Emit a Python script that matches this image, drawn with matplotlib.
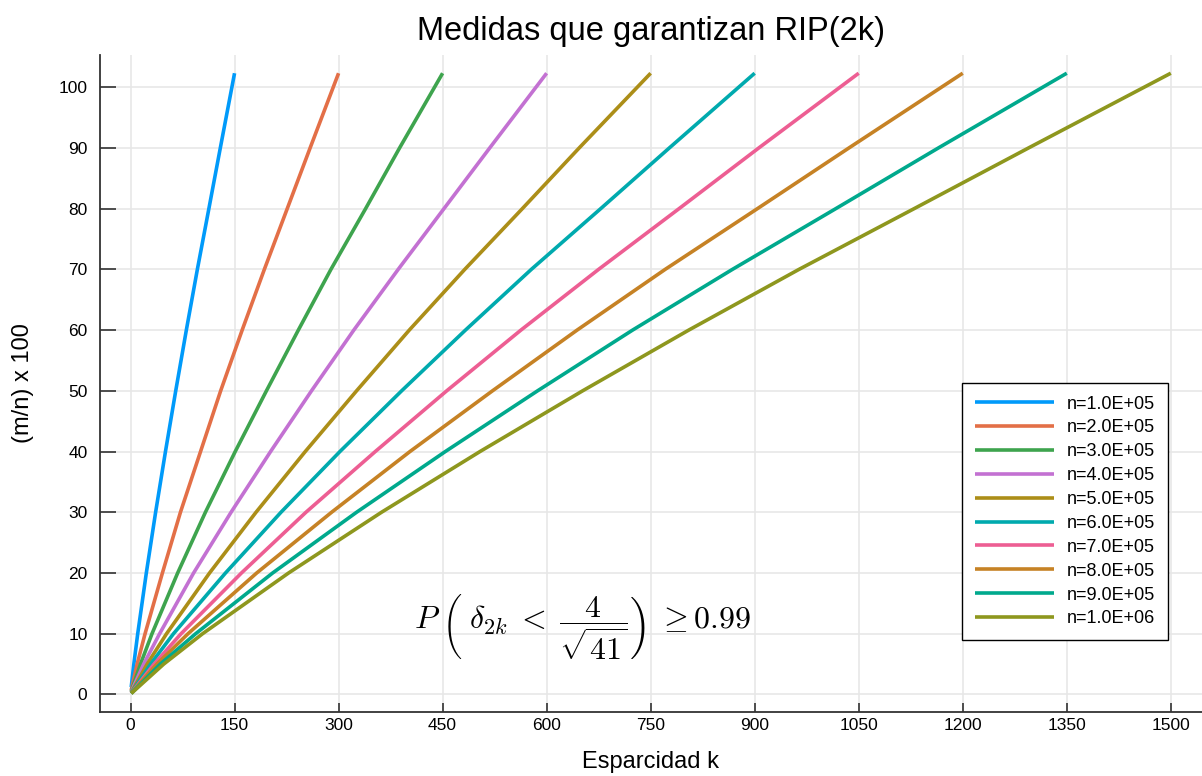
import numpy as np
import matplotlib.pyplot as plt

plt.rcParams['font.family'] = ['Liberation Sans', 'DejaVu Sans']
plt.rcParams['mathtext.fontset'] = 'cm'

# series
labels = ["n=1.0E+05", "n=2.0E+05", "n=3.0E+05", "n=4.0E+05", "n=5.0E+05",
          "n=6.0E+05", "n=7.0E+05", "n=8.0E+05", "n=9.0E+05", "n=1.0E+06"]
colors = ["#009AFA", "#E36F47", "#3EA44E", "#C371D2", "#AC8E18",
          "#00AAAE", "#ED5E93", "#C68225", "#00A98D", "#8E971E"]

# start point (k=1) and end point of every curve
y_start = [1.2, 0.7, 0.5, 0.4, 0.3, 0.25, 0.2, 0.2, 0.15, 0.15]
k_end = [150, 300, 450, 600, 750, 900, 1050, 1200, 1350, 1500]
y_end = [102.3, 102.3, 102.3, 102.3, 102.3, 102.3, 102.3, 102.3, 102.3, 102.3]

# k where each curve crosses these y levels
y_levels = [5, 10, 20, 30, 40, 50, 60, 70, 80, 90]
k_cross = [
    [4.8, 10.4, 22.8, 36.2, 50.4, 65.2, 80.5, 96.4, 113, 129.5],
    [9.6, 21, 46, 72, 101, 130, 161, 193, 226, 259],
    [14.4, 31, 68, 108, 151, 196, 242, 289, 339, 388],
    [19, 42, 91, 145, 202, 261, 322, 386, 452, 518],
    [24, 52, 114, 181, 252, 326, 402, 482, 565, 647],
    [29, 62, 137, 217, 302, 391, 483, 578, 678, 777],
    [34, 73, 160, 253, 353, 456, 563, 675, 791, 906],
    [38, 83, 182, 290, 403, 522, 644, 771, 904, 1036],
    [43, 94, 205, 326, 454, 587, 724, 868, 1017, 1165],
    [48, 104, 228, 362, 504, 652, 805, 964, 1130, 1295],
]

x_ticks = [0, 150, 300, 450, 600, 750, 900, 1050, 1200, 1350, 1500]
y_ticks = [0, 10, 20, 30, 40, 50, 60, 70, 80, 90, 100]

fig = plt.figure(figsize=(12.02, 7.76), dpi=100)
ax = fig.add_axes([100/1202, 1 - 712/776, 1102/1202, 657/776])

for i in range(len(labels)):
    k = [1] + k_cross[i] + [k_end[i]]
    y = [y_start[i]] + y_levels + [y_end[i]]
    ax.plot(k, y, color=colors[i], lw=2.6, label=labels[i], solid_capstyle='butt')

ax.set_xlim(-44, 1545)
ax.set_ylim(-2.9, 105.3)
ax.set_xticks(x_ticks)
ax.set_yticks(y_ticks)
ax.grid(True, color='#e6e6e6', lw=1.1)
ax.set_axisbelow(True)

for s in ['top', 'right']:
    ax.spines[s].set_visible(False)
for s in ['left', 'bottom']:
    ax.spines[s].set_color('#333333')
    ax.spines[s].set_linewidth(1.3)

ax.tick_params(axis='y', direction='in', length=11.5, width=1.2, color='#333333',
               labelsize=12.5, pad=9)
ax.tick_params(axis='x', direction='in', length=6.5, width=1.2, color='#333333',
               labelsize=12.5, pad=4)

ax.set_xlabel("Esparcidad k", fontsize=17, labelpad=13)
ax.set_ylabel("(m/n) x 100", fontsize=17, labelpad=18)
ax.set_title("Medidas que garantizan RIP(2k)", fontsize=23.5, pad=11)

ax.text(652, 11, r"$P\;\left(\;\delta_{2k}\;<\;\dfrac{4}{\sqrt{41}}\right)\;\geq 0.99$",
        fontsize=23, ha='center', va='center')

leg = ax.legend(loc='upper right', bbox_to_anchor=(0.969, 1 - (383 - 55) / 657),
                borderaxespad=0, fontsize=13, frameon=True, fancybox=False,
                framealpha=1, edgecolor='black', handlelength=4.4,
                handletextpad=0.7, labelspacing=0.38, borderpad=0.7)
leg.get_frame().set_linewidth(1.0)

fig.savefig("out.png", dpi=100)
